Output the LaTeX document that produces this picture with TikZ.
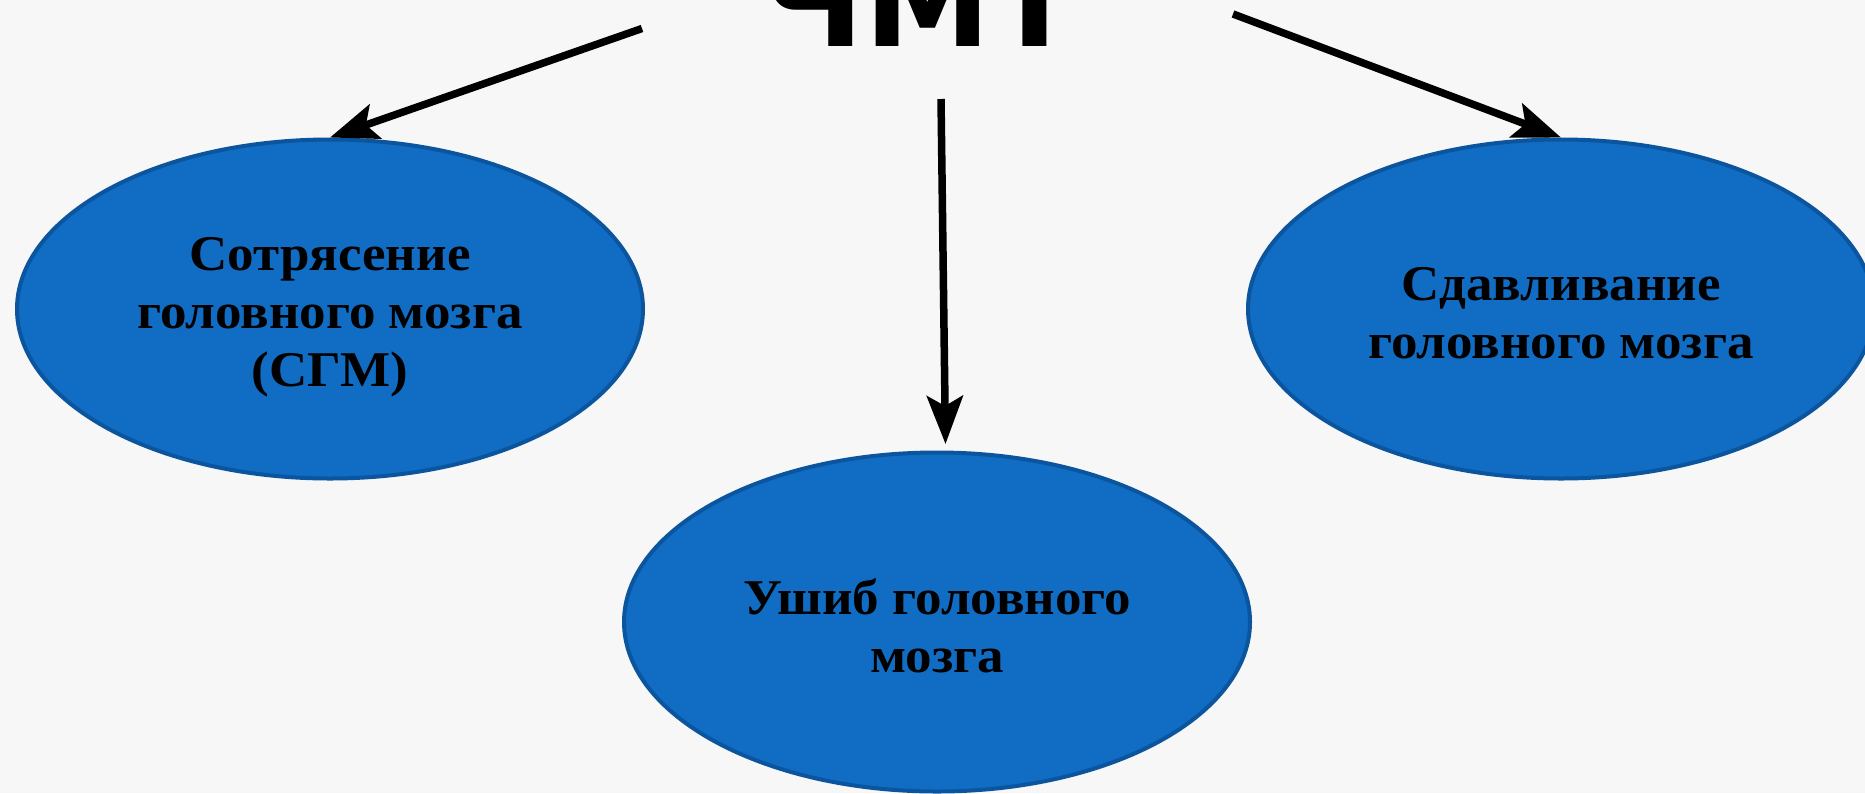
\documentclass[tikz,border=0pt]{standalone}
\usepackage{fontspec}
\setmainfont[FakeStretch=1.06]{Liberation Serif}
\newfontfamily\titlefont{DejaVu Sans Condensed}
\usetikzlibrary{shapes.geometric,arrows.meta}
\definecolor{bg}{HTML}{F7F7F7}
\definecolor{ellfill}{HTML}{116DC4}
\definecolor{elledge}{HTML}{0B559E}
\tikzset{
  oval/.style={ellipse, fill=ellfill, draw=elledge, line width=4pt,
    minimum width=626pt, minimum height=339pt, inner sep=0pt},
  ovaltext/.style={inner sep=0pt, align=center,
    font=\fontsize{50}{58}\selectfont\bfseries, text=black},
  link/.style={line width=7.5pt, -{Stealth[length=48pt,width=36pt,inset=10pt]}},
}
\begin{document}
\begin{tikzpicture}[x=1pt,y=-1pt]
\fill[bg] (0,0) rectangle (1865,793);
\useasboundingbox (0,0) rectangle (1865,793);
\node[inner sep=0pt, anchor=south] (title) at (920,47)
  {\resizebox{316pt}{95pt}{\titlefont\bfseries ЧМТ}};
\node[oval] (left) at (330,309) {};
\node[oval] (mid) at (937,622) {};
\node[oval] (right) at (1561,309) {};
\node[ovaltext] (lefttext) at ([yshift=-8pt]left.center) {Сотрясение\\головного мозга\\(СГМ)};
\node[ovaltext] (midtext) at ([yshift=-4pt]mid.center) {Ушиб головного\\мозга};
\node[ovaltext] (righttext) at ([yshift=-4pt]right.center) {Сдавливание\\головного мозга};
\coordinate (sl) at (642,28.5);
\coordinate (sm) at (941,99);
\coordinate (sr) at (1233,14);
\coordinate (em) at (945.5,444);
\draw[link] (sl) -- (left.north);
\draw[link] (sm) -- (em);
\draw[link] (sr) -- (right.north);
\end{tikzpicture}
\end{document}
